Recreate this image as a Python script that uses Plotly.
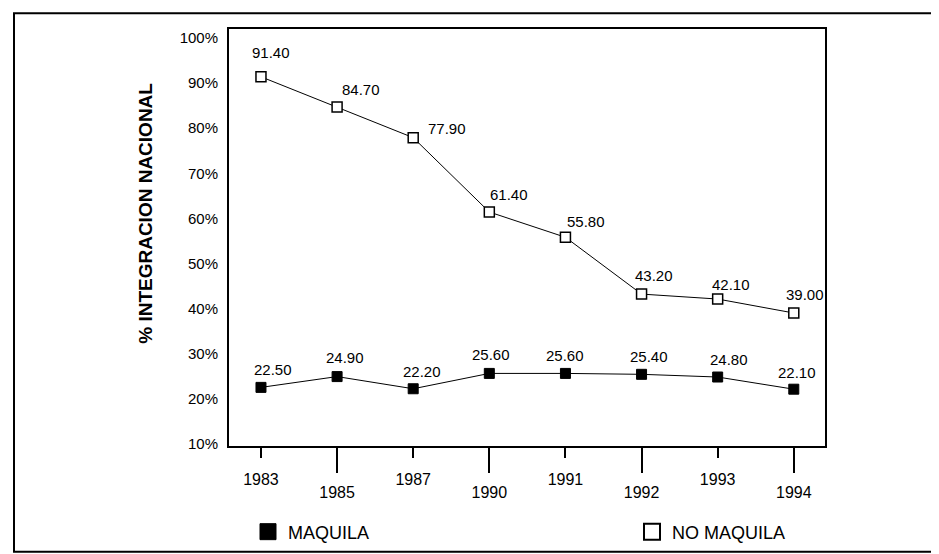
import plotly.graph_objects as go

# ---- data ----
years = ["1983", "1985", "1987", "1990", "1991", "1992", "1993", "1994"]
maquila = [22.50, 24.90, 22.20, 25.60, 25.60, 25.40, 24.80, 22.10]
no_maquila = [91.40, 84.70, 77.90, 61.40, 55.80, 43.20, 42.10, 39.00]
y_ticks = [10, 20, 30, 40, 50, 60, 70, 80, 90, 100]
series_names = ["MAQUILA", "NO MAQUILA"]
y_title = "% INTEGRACION NACIONAL"

# ---- styling (label offsets in px, not data) ----
nm_dx = [10, 24, 34, 20, 21, 12, 13, 11]
nm_dy = [24, 17, 9, 18, 16, 19, 15, 19]
mq_dx = [12, 8, 9, 2, 0, 7, 11, 3]
mq_dy = [18, 19, 17, 19, 18, 18, 18, 17]

W, H = 939, 554
L, R, T, B = 221, 817, 21, 443
xpos = list(range(len(years)))
xr = [-0.42, len(years) - 1 + 0.41]
yr = [9.5, 102]
pw, ph = R - L, B - T

BASE = "Liberation Sans, Arial, Helvetica, sans-serif"
LBL_FONT = dict(family=BASE, size=15, color="black")
TICK_FONT = dict(family=BASE, size=16, color="black")

fig = go.Figure()
fig.add_trace(go.Scatter(
    x=xpos, y=no_maquila, mode="lines+markers", showlegend=False,
    line=dict(color="black", width=1),
    marker=dict(symbol="square", size=10, color="white", line=dict(color="black", width=1.5)),
))
fig.add_trace(go.Scatter(
    x=xpos, y=maquila, mode="lines+markers", showlegend=False,
    line=dict(color="black", width=1),
    marker=dict(symbol="square", size=10, color="black", line=dict(color="black", width=1)),
))
# legend-only traces (two separate legends to reproduce the wide spacing)
fig.add_trace(go.Scatter(
    x=[None], y=[None], mode="markers", name=series_names[0], legend="legend",
    marker=dict(symbol="square", size=16, color="black", line=dict(color="black", width=1)),
))
fig.add_trace(go.Scatter(
    x=[None], y=[None], mode="markers", name=series_names[1], legend="legend2",
    marker=dict(symbol="square", size=16, color="white", line=dict(color="black", width=2)),
))
fig.add_trace(go.Scatter(x=[None], y=[None], xaxis="x2", yaxis="y", showlegend=False, hoverinfo="skip"))

ann = []
for i, v in enumerate(no_maquila):
    ann.append(dict(x=xpos[i], y=v, xref="x", yref="y", text=f"{v:.2f}", showarrow=False,
                    xanchor="center", yanchor="middle", xshift=nm_dx[i], yshift=nm_dy[i], font=LBL_FONT))
for i, v in enumerate(maquila):
    ann.append(dict(x=xpos[i], y=v, xref="x", yref="y", text=f"{v:.2f}", showarrow=False,
                    xanchor="center", yanchor="middle", xshift=mq_dx[i], yshift=mq_dy[i], font=LBL_FONT))

ann.append(dict(x=(138 - L) / pw, y=(B - 208) / ph, xref="paper", yref="paper", text=y_title,
                showarrow=False, textangle=-90, xanchor="center", yanchor="middle",
                font=dict(family=BASE, size=19, color="black", weight="bold")))

even = [i for i in xpos if i % 2 == 0]
odd = [i for i in xpos if i % 2 == 1]

LEG_FONT = dict(family=BASE, size=18, color="black")
leg_y = (B - 530) / ph

fig.update_layout(
    width=W, height=H,
    margin=dict(l=L, r=W - R, t=T, b=H - B),
    paper_bgcolor="white", plot_bgcolor="white",
    xaxis=dict(range=xr, tickmode="array", tickvals=even, ticktext=[years[i] for i in even],
               ticks="outside", ticklen=10, tickwidth=1.5, tickcolor="black",
               showline=True, mirror=True, linecolor="black", linewidth=1.5,
               showgrid=False, zeroline=False, tickfont=TICK_FONT, ticklabelstandoff=8),
    xaxis2=dict(range=xr, overlaying="x", anchor="y", side="bottom",
                tickmode="array", tickvals=odd, ticktext=[years[i] for i in odd],
                ticks="outside", ticklen=26, tickwidth=1.5, tickcolor="black",
                showline=False, showgrid=False, zeroline=False, tickfont=TICK_FONT,
                ticklabelstandoff=6),
    yaxis=dict(range=yr, tickmode="array", tickvals=y_ticks, ticktext=[f"{t}%" for t in y_ticks],
               ticks="", showline=True, mirror=True, linecolor="black", linewidth=2,
               showgrid=False, zeroline=False, ticklabelstandoff=6,
               tickfont=dict(family=BASE, size=15, color="black")),
    legend=dict(orientation="h", x=(240 - L) / pw, xanchor="left", y=leg_y, yanchor="middle",
                font=LEG_FONT, bgcolor="rgba(0,0,0,0)", itemwidth=30),
    legend2=dict(orientation="h", x=(624 - L) / pw, xanchor="left", y=leg_y, yanchor="middle",
                 font=LEG_FONT, bgcolor="rgba(0,0,0,0)", itemwidth=30),
    annotations=ann,
    shapes=[dict(type="rect", xref="paper", yref="paper",
                 x0=(6 - L) / pw, x1=(950 - L) / pw, y0=(B - 550) / ph, y1=(B - 5) / ph,
                 line=dict(color="black", width=2), fillcolor="rgba(0,0,0,0)", layer="below")],
)

fig.write_html("out.html")
